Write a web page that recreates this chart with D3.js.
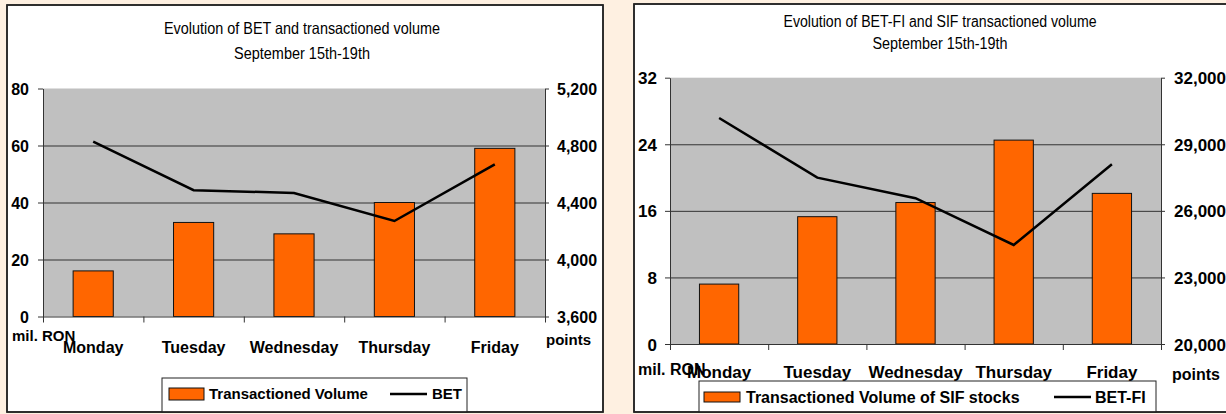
<!DOCTYPE html>
<html>
<head>
<meta charset="utf-8">
<script src="https://cdn.jsdelivr.net/npm/d3@7"></script>
<style>
  body { margin: 0; background: #fef0e1; }
  svg { display: block; }
  .axis text { font-family: "Liberation Sans", Arial, sans-serif; font-weight: bold; fill: #000; }
  .axis path, .axis line { stroke: #333; }
  .grid line { stroke: #333; }
  .grid path { display: none; }
</style>
</head>
<body>
<script>
// days of the week
const days = ["Monday", "Tuesday", "Wednesday", "Thursday", "Friday"];

// left chart: BET
const betVolume = [16, 33, 29, 40, 59];              // mil. RON
const betIndex = [4827, 4486, 4467, 4270, 4668];     // points
const betVolumeTicks = [0, 20, 40, 60, 80];
const betIndexTicks = [3600, 4000, 4400, 4800, 5200];

// right chart: BET-FI
const sifVolume = [7.2, 15.3, 17.0, 24.5, 18.1];     // mil. RON
const betFiIndex = [30185, 27495, 26568, 24464, 28099];
const sifVolumeTicks = [0, 8, 16, 24, 32];
const betFiTicks = [20000, 23000, 26000, 29000, 32000];

var svg = d3.select("body").append("svg")
  .attr("width", 1226).attr("height", 414);

function drawPanel(o) {
  var g = svg.append("g");

  // white frame
  g.append("rect")
    .attr("x", o.frame[0]).attr("y", o.frame[1])
    .attr("width", o.frame[2] - o.frame[0]).attr("height", o.frame[3] - o.frame[1])
    .attr("fill", "#fff").attr("stroke", "#222").attr("stroke-width", 1.5);

  // titles
  o.titles.forEach(function(t) {
    g.append("text")
      .attr("x", o.titleX).attr("y", t.y)
      .attr("text-anchor", "middle")
      .attr("font-family", "Liberation Sans, Arial, sans-serif")
      .attr("font-size", o.titleSize)
      .attr("textLength", t.w).attr("lengthAdjust", "spacingAndGlyphs")
      .text(t.text);
  });

  var x = d3.scaleBand().domain(days).range([o.left, o.right]);
  var xEdges = d3.scaleLinear().domain([0, days.length]).range([o.left, o.right]);
  var yL = d3.scaleLinear().domain([o.leftTicks[0], o.leftTicks[o.leftTicks.length - 1]]).range([o.bottom, o.top]);
  var yR = d3.scaleLinear().domain([o.rightTicks[0], o.rightTicks[o.rightTicks.length - 1]]).range([o.bottom, o.top]);

  // plot background
  g.append("rect")
    .attr("x", o.left).attr("y", o.top)
    .attr("width", o.right - o.left).attr("height", o.bottom - o.top)
    .attr("fill", "#c0c0c0");

  // horizontal grid
  g.append("g").attr("class", "grid")
    .attr("transform", "translate(" + o.left + ",0)")
    .call(d3.axisLeft(yL).tickValues(o.leftTicks.slice(1, -1))
      .tickSize(-(o.right - o.left)).tickFormat(""));

  // bars
  var bw = x.bandwidth() * 0.4;
  g.append("g").selectAll("rect")
    .data(o.volume)
    .join("rect")
    .attr("x", function(d, i) { return x(days[i]) + (x.bandwidth() - bw) / 2; })
    .attr("y", function(d) { return yL(d); })
    .attr("width", bw)
    .attr("height", function(d) { return o.bottom - yL(d); })
    .attr("fill", "#ff6600").attr("stroke", "#111").attr("stroke-width", 1);

  // left axis
  g.append("g").attr("class", "axis")
    .attr("transform", "translate(" + o.left + ",0)")
    .call(d3.axisLeft(yL).tickValues(o.leftTicks).tickSize(5).tickSizeOuter(0)
      .tickPadding(o.leftPad).tickFormat(d3.format("d")))
    .selectAll("text").attr("font-size", o.numSize).attr("dy", "0.36em");

  // right axis
  g.append("g").attr("class", "axis")
    .attr("transform", "translate(" + o.right + ",0)")
    .call(d3.axisRight(yR).tickValues(o.rightTicks).tickSize(4).tickSizeOuter(0)
      .tickPadding(o.rightPad).tickFormat(d3.format(",")))
    .selectAll("text").attr("font-size", o.numSize).attr("dy", "0.36em");

  // category axis: boundary ticks
  g.append("g").attr("class", "axis")
    .attr("transform", "translate(0," + o.bottom + ")")
    .call(d3.axisBottom(xEdges).ticks(days.length).tickSize(6).tickSizeOuter(0).tickFormat(""));

  // category labels
  g.append("g").attr("class", "axis")
    .attr("transform", "translate(0," + o.bottom + ")")
    .call(d3.axisBottom(x).tickSize(0).tickPadding(o.catPad))
    .call(function(s) { s.select(".domain").remove(); })
    .selectAll("text").attr("font-size", o.catSize);

  // line
  var line = d3.line()
    .x(function(d, i) { return x(days[i]) + x.bandwidth() / 2; })
    .y(function(d) { return yR(d); });
  g.append("path").datum(o.index)
    .attr("d", line).attr("fill", "none")
    .attr("stroke", "#000").attr("stroke-width", 2.5);

  // unit labels
  g.append("text").attr("x", o.unitL[0]).attr("y", o.unitL[1])
    .attr("font-family", "Liberation Sans, Arial, sans-serif").attr("font-weight", "bold")
    .attr("font-size", o.unitSize).text("mil. RON");
  g.append("text").attr("x", o.unitR[0]).attr("y", o.unitR[1])
    .attr("font-family", "Liberation Sans, Arial, sans-serif").attr("font-weight", "bold")
    .attr("font-size", o.unitSize).text("points");

  // legend
  var L = o.legend;
  g.append("rect")
    .attr("x", L.box[0]).attr("y", L.box[1])
    .attr("width", L.box[2] - L.box[0]).attr("height", o.frame[3] - L.box[1])
    .attr("fill", "#fff").attr("stroke", "#222").attr("stroke-width", 1);
  g.append("rect")
    .attr("x", L.swatch[0]).attr("y", L.swatch[1])
    .attr("width", L.swatch[2] - L.swatch[0]).attr("height", L.swatch[3] - L.swatch[1])
    .attr("fill", "#ff6600").attr("stroke", "#111").attr("stroke-width", 1);
  g.append("text").attr("x", L.textX).attr("y", L.cy).attr("dy", "0.36em")
    .attr("font-family", "Liberation Sans, Arial, sans-serif").attr("font-weight", "bold")
    .attr("font-size", L.size).text(L.barName);
  g.append("line")
    .attr("x1", L.line[0]).attr("x2", L.line[1]).attr("y1", L.cy).attr("y2", L.cy)
    .attr("stroke", "#000").attr("stroke-width", 2.5);
  g.append("text").attr("x", L.lineTextX).attr("y", L.cy).attr("dy", "0.36em")
    .attr("font-family", "Liberation Sans, Arial, sans-serif").attr("font-weight", "bold")
    .attr("font-size", L.size).text(L.lineName);

  // redraw frame border on top
  g.append("rect")
    .attr("x", o.frame[0]).attr("y", o.frame[1])
    .attr("width", o.frame[2] - o.frame[0]).attr("height", o.frame[3] - o.frame[1])
    .attr("fill", "none").attr("stroke", "#222").attr("stroke-width", 1.5);
}

drawPanel({
  frame: [7, 5, 603, 412],
  left: 43, right: 545, top: 88.5, bottom: 316.5,
  titleX: 302, titleSize: 16.5,
  titles: [
    { text: "Evolution of  BET and transactioned volume", y: 33.5, w: 276 },
    { text: "September 15th-19th", y: 58.5, w: 136 }
  ],
  volume: betVolume, index: betIndex,
  leftTicks: betVolumeTicks, rightTicks: betIndexTicks,
  numSize: 16, leftPad: 9, rightPad: 8,
  catSize: 16, catPad: 25,
  unitSize: 15, unitL: [12, 341], unitR: [546, 345],
  legend: {
    box: [162, 378, 467], swatch: [169, 388, 204, 400], cy: 394,
    textX: 209, line: [390, 427], lineTextX: 432, size: 15,
    barName: "Transactioned Volume", lineName: "BET"
  }
});

drawPanel({
  frame: [634, 4, 1232, 412],
  left: 670, right: 1161, top: 77.7, bottom: 344,
  titleX: 940, titleSize: 16,
  titles: [
    { text: "Evolution of  BET-FI and SIF transactioned volume", y: 26.5, w: 313 },
    { text: "September 15th-19th", y: 48.5, w: 135 }
  ],
  volume: sifVolume, index: betFiIndex,
  leftTicks: sifVolumeTicks, rightTicks: betFiTicks,
  numSize: 17, leftPad: 8, rightPad: 9,
  catSize: 17, catPad: 22,
  unitSize: 16, unitL: [638, 375], unitR: [1172, 380],
  legend: {
    box: [699, 381, 1156], swatch: [704, 392, 740, 402], cy: 397,
    textX: 746, line: [1054, 1091], lineTextX: 1095, size: 16,
    barName: "Transactioned Volume of SIF stocks", lineName: "BET-FI"
  }
});
</script>
</body>
</html>
